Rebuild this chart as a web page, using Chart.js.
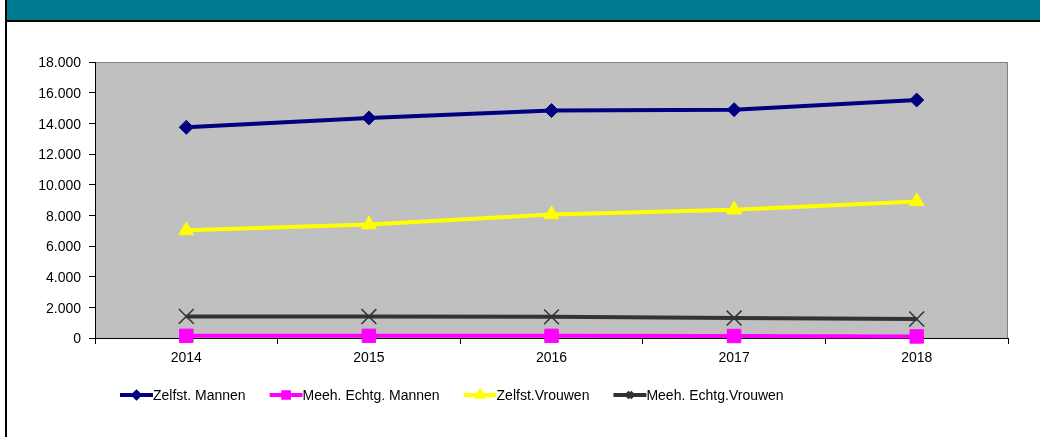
<!DOCTYPE html>
<html><head><meta charset="utf-8">
<script src="https://cdn.jsdelivr.net/npm/chart.js@4"></script>
<style>html,body{margin:0;padding:0;background:#fff;overflow:hidden}</style>
</head><body><canvas id="c" width="1040" height="437"></canvas>
<script>
const years = ['2014', '2015', '2016', '2017', '2018'];
const zelfstMannen = [13740, 14350, 14830, 14890, 15520];
const meehEchtgMannen = [140, 140, 140, 130, 100];
const zelfstVrouwen = [7020, 7400, 8060, 8370, 8910];
const meehEchtgVrouwen = [1410, 1400, 1380, 1300, 1240];
const seriesNames = ['Zelfst. Mannen', 'Meeh. Echtg. Mannen', 'Zelfst.Vrouwen', 'Meeh. Echtg.Vrouwen'];
const yMin = 0, yMax = 18000, yStep = 2000;

const FONT = '"Liberation Sans", Arial, sans-serif';
const fmt = v => String(v).replace(/\B(?=(\d{3})+(?!\d))/g, '.');

const frame = {
  id: 'frame',
  beforeDraw(chart) {
    const ctx = chart.ctx, a = chart.chartArea;
    ctx.save();
    ctx.fillStyle = '#fff';
    ctx.fillRect(0, 0, chart.width, chart.height);
    ctx.fillStyle = '#007A8F';
    ctx.fillRect(6, 0, chart.width - 6, 21);
    ctx.fillStyle = '#000';
    ctx.fillRect(5, 20, chart.width - 5, 2);
    ctx.fillRect(5, 0, 2, chart.height);
    ctx.fillStyle = '#C0C0C0';
    ctx.fillRect(a.left, a.top, a.right - a.left, a.bottom - a.top);
    ctx.strokeStyle = '#808080';
    ctx.lineWidth = 1;
    ctx.beginPath();
    ctx.moveTo(a.left, a.top + 0.5);
    ctx.lineTo(a.right - 0.5, a.top + 0.5);
    ctx.lineTo(a.right - 0.5, a.bottom);
    ctx.stroke();
    ctx.restore();
  },
  afterDraw(chart) {
    const ctx = chart.ctx;
    ctx.save();
    ctx.font = '14px ' + FONT;
    ctx.textBaseline = 'middle';
    let x = 120;
    const y = 395;
    chart.data.datasets.forEach(ds => {
      ctx.strokeStyle = ds.borderColor;
      ctx.lineWidth = 4;
      ctx.beginPath();
      ctx.moveTo(x, y);
      ctx.lineTo(x + 33, y);
      ctx.stroke();
      ctx.fillStyle = ds.borderColor;
      ctx.strokeStyle = ds.borderColor;
      Chart.helpers.drawPoint(ctx, {pointStyle: ds.pointStyle, radius: ds.legendRadius, borderWidth: 1}, x + 16.5, y);
      ctx.fillStyle = '#000';
      ctx.fillText(ds.label, x + 33, y + 1);
      x += 33 + ctx.measureText(ds.label).width + 24;
    });
    ctx.restore();
  }
};

new Chart(document.getElementById('c'), {
  type: 'line',
  data: {
    labels: years,
    datasets: [
      {label: seriesNames[0], data: zelfstMannen, borderColor: '#000080', backgroundColor: '#000080',
       pointStyle: 'rectRot', pointRadius: 7, pointBorderWidth: 1, legendRadius: 3},
      {label: seriesNames[1], data: meehEchtgMannen, borderColor: '#FF00FF', backgroundColor: '#FF00FF',
       pointStyle: 'rect', pointRadius: 9.5, pointBorderWidth: 1, legendRadius: 4},
      {label: seriesNames[2], data: zelfstVrouwen, borderColor: '#FFFF00', backgroundColor: '#FFFF00',
       pointStyle: 'triangle', pointRadius: 8.5, pointBorderWidth: 1, legendRadius: 3.5},
      {label: seriesNames[3], data: meehEchtgVrouwen, borderColor: '#333333', backgroundColor: '#333333',
       pointStyle: 'crossRot', pointRadius: 10.5, pointBorderWidth: 1.5, legendRadius: 4}
    ].map(d => Object.assign({borderWidth: 4, tension: 0, clip: false, fill: false,
                              pointBorderColor: d.borderColor, pointBackgroundColor: d.backgroundColor}, d))
  },
  options: {
    responsive: false,
    animation: false,
    devicePixelRatio: 1,
    layout: {padding: {left: 0, right: 32, top: 62, bottom: 0}},
    plugins: {legend: {display: false}, tooltip: {enabled: false}},
    scales: {
      x: {
        type: 'category',
        offset: true,
        grid: {display: true, drawOnChartArea: false, drawTicks: true, tickLength: 6, color: '#000', offset: true},
        border: {display: true, color: '#000', width: 1},
        ticks: {font: {family: FONT, size: 14}, color: '#000', padding: 6, maxRotation: 0},
        afterFit: s => { s.height = 99; }
      },
      y: {
        min: yMin, max: yMax,
        grid: {display: true, drawOnChartArea: false, drawTicks: true, tickLength: 6, color: '#000'},
        border: {display: true, color: '#000', width: 1},
        ticks: {stepSize: yStep, font: {family: FONT, size: 14}, color: '#000', padding: 8, labelOffset: 1.5, callback: v => fmt(v)},
        afterFit: s => { s.width = 95; }
      }
    }
  },
  plugins: [frame]
});
</script>
</body></html>
